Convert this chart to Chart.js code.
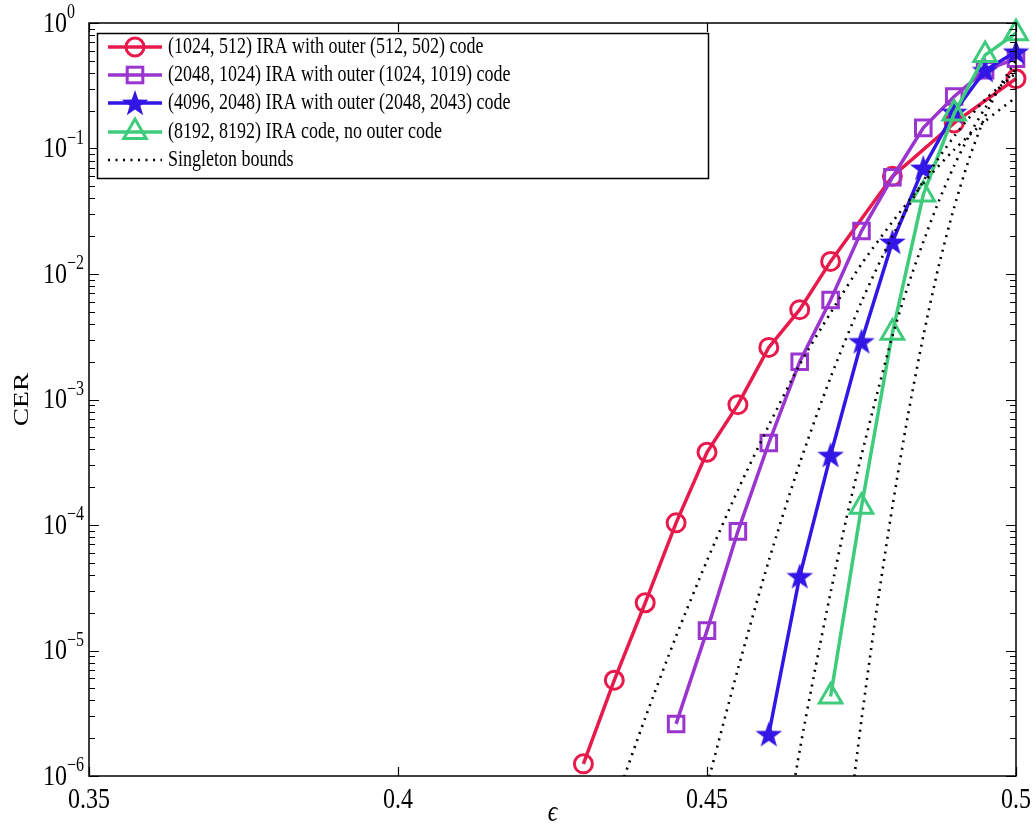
<!DOCTYPE html>
<html lang="en">
<head>
<meta charset="UTF-8">
<title>CER of IRA codes on the erasure channel</title>
<script src="https://cdn.jsdelivr.net/npm/chart.js"></script>
<style>
  html, body { margin: 0; padding: 0; background: #fff; }
  #wrap { width: 1036px; height: 826px; }
</style>
</head>
<body>
<div id="wrap"><canvas id="cerChart" width="1036" height="826"></canvas></div>
<script>
// (1024,512) IRA with outer (512,502) code
const eps1024 = [0.43, 0.435, 0.44, 0.445, 0.45, 0.455, 0.46, 0.465, 0.47, 0.48, 0.49, 0.5];
const cer1024 = [1.25e-6, 5.8e-6, 2.4e-5, 1.04e-4, 3.8e-4, 9.1e-4, 2.6e-3, 5.2e-3, 1.26e-2, 0.060, 0.16, 0.36];

// (2048,1024) IRA with outer (1024,1019) code
const eps2048 = [0.445, 0.45, 0.455, 0.46, 0.465, 0.47, 0.475, 0.48, 0.485, 0.49, 0.495, 0.5];
const cer2048 = [2.6e-6, 1.44e-5, 8.9e-5, 4.5e-4, 2.0e-3, 6.2e-3, 0.022, 0.059, 0.146, 0.26, 0.42, 0.52];

// (4096,2048) IRA with outer (2048,2043) code
const eps4096 = [0.46, 0.465, 0.47, 0.475, 0.48, 0.485, 0.49, 0.495, 0.5];
const cer4096 = [2.15e-6, 3.9e-5, 3.6e-4, 2.9e-3, 0.018, 0.070, 0.195, 0.42, 0.59];

// (8192,8192) IRA code, no outer code
const eps8192 = [0.47, 0.475, 0.48, 0.485, 0.49, 0.495, 0.5];
const cer8192 = [4.3e-6, 1.4e-4, 3.4e-3, 0.043, 0.19, 0.555, 0.83];

// Singleton bounds, one per block length
const bndEpsA = [0.435, 0.44, 0.445, 0.45, 0.455, 0.46, 0.465, 0.47, 0.475, 0.48, 0.485, 0.49, 0.495, 0.5];
const bndA    = [5.9e-7, 2.9e-6, 1.3e-5, 5.2e-5, 1.9e-4, 6.2e-4, 1.9e-3, 4.9e-3, 0.012, 0.026, 0.053, 0.098, 0.165, 0.256];
const bndEpsB = [0.4475, 0.45, 0.455, 0.46, 0.465, 0.47, 0.475, 0.48, 0.485, 0.49, 0.495, 0.5];
const bndB    = [2.6e-7, 8.3e-7, 7.1e-6, 5.2e-5, 3.1e-4, 1.5e-3, 6.0e-3, 0.020, 0.055, 0.125, 0.245, 0.40];
const bndEpsC = [0.4625, 0.465, 0.4675, 0.47, 0.4725, 0.475, 0.4775, 0.48, 0.4825, 0.485, 0.4875, 0.49, 0.4925, 0.495, 0.4975, 0.5];
const bndC    = [3.0e-7, 1.6e-6, 7.1e-6, 2.9e-5, 1.1e-4, 3.6e-4, 1.1e-3, 3.2e-3, 8.0e-3, 0.018, 0.038, 0.073, 0.129, 0.21, 0.31, 0.43];
const bndEpsD = [0.4725, 0.475, 0.4775, 0.48, 0.4825, 0.485, 0.4875, 0.49, 0.4925, 0.495, 0.4975, 0.5];
const bndD    = [2.9e-7, 2.8e-6, 2.2e-5, 1.4e-4, 7.4e-4, 3.2e-3, 0.0116, 0.034, 0.085, 0.18, 0.32, 0.50];

const xTicks = [0.35, 0.4, 0.45, 0.5];
const yExps = [0, -1, -2, -3, -4, -5, -6];

const legendLabels = [
  '(1024, 512) IRA with outer (512, 502) code',
  '(2048, 1024) IRA with outer (1024, 1019) code',
  '(4096, 2048) IRA with outer (2048, 2043) code',
  '(8192, 8192) IRA code, no outer code',
  'Singleton bounds'
];

const RED = '#e8194b', PURPLE = '#9a35cf', BLUE = '#3216e5', GREEN = '#3ecb7c';
const SERIF = '"Liberation Serif", "DejaVu Serif", serif';
const SY = 1.25; // text is drawn a bit taller than wide
const DOTS = [2, 5.5];

function starPath(ctx, cx, cy, ro, ri) {
  ctx.beginPath();
  for (let i = 0; i < 10; i++) {
    const r = i % 2 ? ri : ro;
    const a = -Math.PI / 2 + i * Math.PI / 5;
    ctx.lineTo(cx + r * Math.cos(a), cy + r * Math.sin(a));
  }
  ctx.closePath();
}

// filled five-point star used as point style
const starImg = document.createElement('canvas');
starImg.width = 32; starImg.height = 32;
(function () {
  const c = starImg.getContext('2d');
  starPath(c, 16, 17, 14, 5.6);
  c.fillStyle = BLUE;
  c.fill();
})();

function pts(xs, ys) { return xs.map((x, i) => ({ x: x, y: ys[i] })); }

function codeSet(label, xs, ys, color, style, radius, order) {
  return {
    label: label, data: pts(xs, ys), order: order,
    borderColor: color, borderWidth: 3.5,
    pointStyle: style, pointRadius: radius,
    pointBorderColor: color, pointBorderWidth: 3,
    pointBackgroundColor: 'rgba(0,0,0,0)',
    clip: false, tension: 0
  };
}

function boundSet(xs, ys) {
  return {
    label: 'Singleton bounds', data: pts(xs, ys), order: 0,
    borderColor: '#000', borderWidth: 2.6, borderDash: DOTS,
    pointRadius: 0, tension: 0.25
  };
}

function text(ctx, str, x, y, font, align, base) {
  ctx.save();
  ctx.translate(x, y);
  ctx.scale(1, SY);
  ctx.font = font;
  ctx.textAlign = align || 'left';
  ctx.textBaseline = base || 'middle';
  ctx.fillStyle = '#000';
  ctx.fillText(str, 0, 0);
  ctx.restore();
}

function marker(ctx, kind, x, y) {
  ctx.save();
  ctx.lineWidth = 3;
  if (kind === 'circle') {
    ctx.strokeStyle = RED;
    ctx.beginPath(); ctx.arc(x, y, 9, 0, Math.PI * 2); ctx.stroke();
  } else if (kind === 'rect') {
    ctx.strokeStyle = PURPLE;
    ctx.strokeRect(x - 7.8, y - 7.8, 15.6, 15.6);
  } else if (kind === 'star') {
    ctx.fillStyle = BLUE;
    starPath(ctx, x, y + 1, 14, 5.6); ctx.fill();
  } else if (kind === 'triangle') {
    const r = 13;
    ctx.strokeStyle = GREEN;
    ctx.beginPath();
    ctx.moveTo(x, y - r);
    ctx.lineTo(x + r * Math.sin(2 * Math.PI / 3), y + r / 2);
    ctx.lineTo(x - r * Math.sin(2 * Math.PI / 3), y + r / 2);
    ctx.closePath(); ctx.stroke();
  }
  ctx.restore();
}

const frame = {
  id: 'frame',
  afterDatasetsDraw(chart) {
    const ctx = chart.ctx, a = chart.chartArea;
    const xs = chart.scales.x, ys = chart.scales.y;
    ctx.save();
    ctx.strokeStyle = '#000';
    ctx.lineWidth = 1.5;
    ctx.strokeRect(a.left, a.top, a.right - a.left, a.bottom - a.top);

    ctx.lineWidth = 1.2;
    ctx.beginPath();
    xTicks.forEach(v => {
      const px = Math.round(xs.getPixelForValue(v)) + 0.5;
      ctx.moveTo(px, a.bottom); ctx.lineTo(px, a.bottom - 9);
      ctx.moveTo(px, a.top); ctx.lineTo(px, a.top + 9);
    });
    for (let e = -6; e <= 0; e++) {
      const py = Math.round(ys.getPixelForValue(Math.pow(10, e))) + 0.5;
      ctx.moveTo(a.left, py); ctx.lineTo(a.left + 10, py);
      ctx.moveTo(a.right, py); ctx.lineTo(a.right - 10, py);
      if (e === 0) continue;
      for (let m = 2; m <= 9; m++) {
        const pm = Math.round(ys.getPixelForValue(m * Math.pow(10, e))) + 0.5;
        ctx.moveTo(a.left, pm); ctx.lineTo(a.left + 6, pm);
        ctx.moveTo(a.right, pm); ctx.lineTo(a.right - 6, pm);
      }
    }
    ctx.stroke();
    ctx.restore();

    // tick labels
    xTicks.forEach(v => {
      text(ctx, String(v), xs.getPixelForValue(v), a.bottom + 24, '24px ' + SERIF, 'center');
    });
    yExps.forEach(e => {
      const py = ys.getPixelForValue(Math.pow(10, e));
      text(ctx, '10', 67, py + 1, '24px ' + SERIF, 'right');
      text(ctx, e === 0 ? '0' : '\u2212' + (-e), 67, py - 10, '16px ' + SERIF, 'left');
    });

    // axis titles
    text(ctx, '\u03f5', (a.left + a.right) / 2, 813, 'italic 24px ' + SERIF, 'center');
    ctx.save();
    ctx.translate(22, (a.top + a.bottom) / 2);
    ctx.scale(1, SY);
    ctx.rotate(-Math.PI / 2);
    ctx.font = '22px ' + SERIF;
    ctx.textAlign = 'center'; ctx.textBaseline = 'middle';
    ctx.fillStyle = '#000';
    ctx.fillText('CER', 0, 0);
    ctx.restore();
  },
  afterDraw(chart) {
    const ctx = chart.ctx;
    const box = { x: 97, y: 33, w: 611, h: 145 };
    const rows = [47, 75, 103, 132, 160];
    const colors = [RED, PURPLE, BLUE, GREEN];
    const kinds = ['circle', 'rect', 'star', 'triangle'];
    ctx.save();
    ctx.fillStyle = '#fff';
    ctx.fillRect(box.x, box.y, box.w, box.h);
    ctx.strokeStyle = '#000';
    ctx.lineWidth = 1.5;
    ctx.strokeRect(box.x + 0.5, box.y + 0.5, box.w, box.h);
    rows.forEach((y, i) => {
      ctx.save();
      ctx.beginPath();
      ctx.moveTo(108, y); ctx.lineTo(162, y);
      if (i < 4) {
        ctx.strokeStyle = colors[i]; ctx.lineWidth = 3.5;
      } else {
        ctx.strokeStyle = '#000'; ctx.lineWidth = 2.6; ctx.setLineDash(DOTS);
      }
      ctx.stroke();
      ctx.restore();
      if (i < 4) marker(ctx, kinds[i], 135, y);
      text(ctx, legendLabels[i], 168, y, '18px ' + SERIF, 'left');
    });
    ctx.restore();
  }
};

new Chart(document.getElementById('cerChart'), {
  type: 'line',
  data: {
    datasets: [
      codeSet(legendLabels[0], eps1024, cer1024, RED, 'circle', 9, 5),
      codeSet(legendLabels[1], eps2048, cer2048, PURPLE, 'rect', 11, 4),
      codeSet(legendLabels[2], eps4096, cer4096, BLUE, starImg, 14, 3),
      codeSet(legendLabels[3], eps8192, cer8192, GREEN, 'triangle', 13, 2),
      boundSet(bndEpsA, bndA),
      boundSet(bndEpsB, bndB),
      boundSet(bndEpsC, bndC),
      boundSet(bndEpsD, bndD)
    ]
  },
  options: {
    responsive: false,
    animation: false,
    events: [],
    layout: { padding: { left: 89, right: 20, top: 23, bottom: 50 } },
    plugins: { legend: { display: false }, tooltip: { enabled: false } },
    scales: {
      x: { type: 'linear', min: 0.35, max: 0.5, display: false },
      y: { type: 'logarithmic', min: 1e-6, max: 1, display: false }
    }
  },
  plugins: [frame]
});
</script>
</body>
</html>
